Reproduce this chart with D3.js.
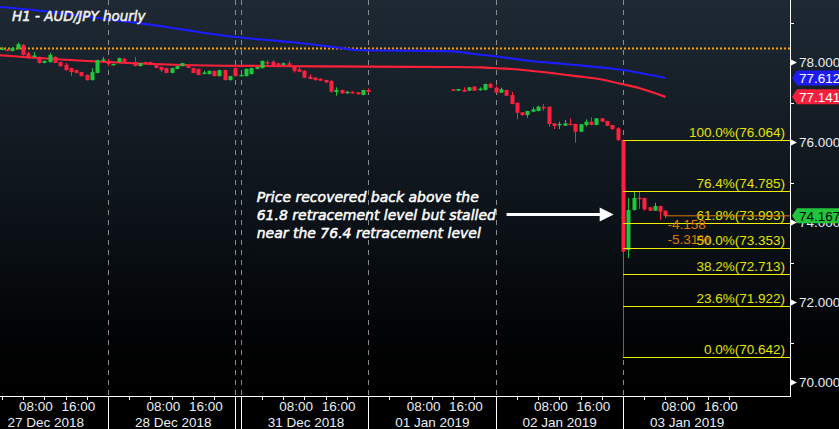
<!DOCTYPE html>
<html>
<head>
<meta charset="utf-8">
<script src="https://cdn.jsdelivr.net/npm/d3@7"></script>
<style>
  html, body { margin: 0; padding: 0; background: #000; }
  svg { display: block; }
</style>
</head>
<body>
<svg id="chart" width="839" height="429"></svg>
<script>
// ---------------- DATA ----------------
const title = "H1 - AUD/JPY hourly";
// hourly candles: [hour index from 27 Dec 00:00 (trading clock), open, high, low, close]
const candleRows = [
[4,78.325,78.388,78.313,78.35],[5,78.325,78.34,78.29,78.30],[6,78.29,78.39,78.275,78.36],
[7,78.34,78.495,78.325,78.46],[8,78.44,78.46,78.175,78.19],[9,78.23,78.27,78.10,78.105],
[10,78.16,78.26,78.14,78.175],[11,78.14,78.15,77.975,77.99],[12,77.99,78.045,77.98,78.04],
[13,78.01,78.24,78.00,78.19],[14,78.14,78.15,77.98,77.99],[15,78.01,78.02,77.90,77.91],
[16,77.94,77.99,77.80,77.81],[17,77.86,77.87,77.66,77.76],[18,77.81,77.82,77.73,77.74],
[19,77.76,77.77,77.65,77.66],[20,77.69,77.70,77.55,77.56],[21,77.56,77.86,77.55,77.76],
[22,77.74,78.07,77.73,78.06],[23,78.05,78.14,78.01,78.075],[24,78.04,78.09,77.91,77.96],
[25,77.96,77.97,77.95,77.965],[26,78.01,78.12,78.00,78.11],[27,78.09,78.12,78.00,78.01],
[28,78.01,78.02,77.98,77.99],[29,78.01,78.14,77.90,77.91],[30,77.91,77.99,77.90,77.985],
[31,78.01,78.02,77.98,77.99],[32,78.01,78.02,77.96,77.96],[33,77.94,77.95,77.86,77.865],
[34,77.89,77.90,77.76,77.81],[35,77.86,77.87,77.73,77.74],[36,77.74,77.87,77.73,77.86],
[37,77.84,77.92,77.83,77.91],[38,77.91,77.99,77.90,77.985],[39,77.91,77.92,77.86,77.865],
[40,77.86,77.87,77.73,77.74],[41,77.84,77.85,77.68,77.69],[42,77.74,77.795,77.705,77.75],
[43,77.71,77.80,77.70,77.79],[44,77.79,77.80,77.65,77.66],[45,77.66,77.82,77.65,77.81],
[46,77.81,77.82,77.55,77.56],[47,77.56,77.67,77.55,77.66],[48,77.86,77.87,77.65,77.66],
[49,77.68,77.70,77.67,77.69],[50,77.66,77.85,77.65,77.84],[51,77.71,77.87,77.70,77.86],
[52,77.84,77.89,77.83,77.885],[53,77.86,78.05,77.85,78.04],[54,78.01,78.06,77.94,77.99],
[55,78.02,78.06,77.91,77.92],[56,77.98,77.99,77.93,77.94],[57,77.94,78.005,77.93,77.98],
[58,77.98,78.045,77.93,77.94],[59,77.895,77.90,77.745,77.795],[60,77.83,77.895,77.76,77.77],
[61,77.795,77.80,77.61,77.62],[62,77.645,77.705,77.58,77.588],[63,77.62,77.645,77.545,77.563],
[64,77.595,77.60,77.54,77.545],[65,77.563,77.57,77.48,77.505],[66,77.538,77.563,77.245,77.27],
[67,77.263,77.38,77.17,77.313],[68,77.313,77.32,77.22,77.23],[69,77.23,77.29,77.22,77.27],
[70,77.27,77.29,77.22,77.23],[71,77.255,77.26,77.20,77.205],[72,77.188,77.32,77.18,77.313],
[73,77.313,77.355,77.238,77.263],
[89,77.33,77.34,77.29,77.295],[90,77.295,77.34,77.29,77.338],[91,77.313,77.38,77.265,77.27],
[92,77.295,77.385,77.29,77.38],[93,77.395,77.413,77.29,77.295],[94,77.325,77.38,77.295,77.345],
[95,77.313,77.47,77.30,77.463],[96,77.463,77.495,77.36,77.37],[97,77.37,77.413,77.24,77.245],
[98,77.245,77.37,77.24,77.33],[99,77.313,77.32,77.16,77.17],[100,77.188,77.27,76.955,76.963],
[101,76.995,77.00,76.58,76.745],[102,76.755,76.76,76.663,76.688],[103,76.688,76.79,76.62,76.788],
[104,76.77,76.88,76.765,76.83],[105,76.788,76.92,76.78,76.895],[106,76.89,76.963,76.795,76.875],
[107,76.895,76.90,76.395,76.463],[108,76.48,76.49,76.338,76.413],[109,76.45,76.52,76.338,76.465],
[110,76.42,76.563,76.41,76.48],[111,76.47,76.605,76.438,76.455],[112,76.463,76.47,75.995,76.27],
[113,76.27,76.465,76.26,76.455],[114,76.438,76.58,76.395,76.52],[115,76.52,76.63,76.43,76.438],
[116,76.438,76.61,76.43,76.605],[117,76.605,76.61,76.51,76.52],[118,76.538,76.545,76.41,76.42],
[119,76.438,76.44,76.313,76.338],[120,76.355,76.38,76.04,76.064],[121,76.064,76.064,70.642,73.27],
[122,73.313,74.613,73.11,74.313],[123,74.313,74.77,74.30,74.613],[124,74.62,74.77,74.338,74.61],
[125,74.613,74.62,74.295,74.33],[126,74.38,74.39,74.29,74.295],[127,74.295,74.495,74.29,74.413],
[128,74.413,74.42,74.063,74.27],[129,74.295,74.30,74.105,74.167]
];

// moving averages (sampled)
const blueMaHours = [3,10,22,35,41,48,53,60,67,71,89,93,98,102,110,121,129];
const blueMaValues = [79.395,79.313,79.113,78.888,78.763,78.638,78.575,78.488,78.38,78.313,78.28,78.213,78.138,78.063,77.963,77.813,77.612];
const redMaHours = [3,20,38,53,73,89,94,98,100,104,109,113,117,121,124,129];
const redMaValues = [78.188,78.038,77.938,77.913,77.895,77.888,77.88,77.85,77.838,77.788,77.713,77.645,77.575,77.455,77.363,77.141];

const levelLine = 78.35;            // orange dotted level
const lastPrice = 74.167;
const changeTexts = ["-4.158", "-5.31%"];

// Fibonacci retracement
const fibStartHour = 121;
const fibPercents = ["100.0%", "76.4%", "61.8%", "50.0%", "38.2%", "23.6%", "0.0%"];
const fibValues = [76.064, 74.785, 73.993, 73.353, 72.713, 71.922, 70.642];

// x axis
const dayLabels = ["27 Dec 2018","28 Dec 2018","31 Dec 2018","01 Jan 2019","02 Jan 2019","03 Jan 2019"];
const dayStartHours = [0, 24, 49, 73, 97, 121];
const separatorHours = [24, 48, 49, 73, 97, 121];
const timeLabels = ["08:00", "16:00"];
const timeLabelHours = [8, 16];
const minorTickHours = [4, 8, 12, 16, 20];

// y axis
const yMajorTicks = [70, 72, 74, 76, 78];
const yMinorTicks = [71, 73, 75, 77, 79];

const annotationLines = [
  "Price recovered back above the",
  "61.8 retracement level but stalled",
  "near the 76.4 retracement level"
];

// ---------------- LAYOUT ----------------
const W = 839, H = 429;
const plotRight = 790, plotBottom = 396;
const svg = d3.select("#chart");

const x = d3.scaleLinear().domain([24, 121]).range([108, 623]);
const y = d3.scaleLinear().domain([70, 78]).range([382.5, 62.5]);

const defs = svg.append("defs");
const grad = defs.append("linearGradient").attr("id", "bg").attr("x1", 0).attr("y1", 0).attr("x2", 0).attr("y2", 1);
[[0, "#1e2934"], [0.3, "#141d25"], [0.6, "#0a1015"], [0.85, "#020304"], [1, "#000"]].forEach(([o, c]) =>
  grad.append("stop").attr("offset", o).attr("stop-color", c));
defs.append("clipPath").attr("id", "plotClip").append("rect")
  .attr("x", 0).attr("y", 0).attr("width", plotRight).attr("height", plotBottom);

svg.append("rect").attr("width", W).attr("height", plotBottom).attr("fill", "url(#bg)");
svg.append("rect").attr("y", plotBottom).attr("width", W).attr("height", H - plotBottom).attr("fill", "#000");

const plot = svg.append("g").attr("clip-path", "url(#plotClip)");

// day separators
plot.selectAll("line.sep").data(separatorHours).join("line")
  .attr("x1", d => Math.round(x(d)) + 0.5).attr("x2", d => Math.round(x(d)) + 0.5)
  .attr("y1", 0).attr("y2", plotBottom)
  .attr("stroke", "#8a8a8a").attr("stroke-width", 1).attr("stroke-dasharray", "5,5");

// orange dotted level
plot.append("line").attr("x1", 0).attr("x2", plotRight)
  .attr("y1", y(levelLine)).attr("y2", y(levelLine))
  .attr("stroke", "#ff9a00").attr("stroke-width", 2).attr("stroke-dasharray", "2,2");

// moving averages
const maLine = d3.line().curve(d3.curveMonotoneX);
plot.append("path")
  .attr("d", maLine(blueMaHours.map((h, i) => [x(h), y(blueMaValues[i])])))
  .attr("fill", "none").attr("stroke", "#1c1cff").attr("stroke-width", 2.2);
plot.append("path")
  .attr("d", maLine(redMaHours.map((h, i) => [x(h), y(redMaValues[i])])))
  .attr("fill", "none").attr("stroke", "#ff2138").attr("stroke-width", 2.2);

// fib lines
const fibX0 = x(fibStartHour);
const fibs = fibValues.map((v, i) => ({ v, p: fibPercents[i] }));
svg.selectAll("line.fib").data(fibs).join("line")
  .attr("x1", fibX0).attr("x2", plotRight)
  .attr("y1", d => Math.round(y(d.v)) + 0.5).attr("y2", d => Math.round(y(d.v)) + 0.5)
  .attr("stroke", "#f0f000").attr("stroke-width", 1);

// candles
const candles = candleRows.map(([h, o, hi, lo, c]) => ({ h, o, hi: Math.max(hi, o, c), lo: Math.min(lo, o, c), c }));
const cg = plot.append("g");
cg.selectAll("line.wick").data(candles).join("line")
  .attr("x1", d => Math.round(x(d.h)) + 0.5).attr("x2", d => Math.round(x(d.h)) + 0.5)
  .attr("y1", d => y(d.hi)).attr("y2", d => y(d.lo))
  .attr("stroke", d => d.c >= d.o ? "#1ec83c" : "#ff1f3f").attr("stroke-width", 1);
cg.selectAll("rect.body").data(candles).join("rect")
  .attr("x", d => Math.round(x(d.h)) - 1.5).attr("width", 4)
  .attr("y", d => y(Math.max(d.o, d.c)))
  .attr("height", d => Math.max(1.5, Math.abs(y(d.o) - y(d.c))))
  .attr("fill", d => d.c >= d.o ? "#1ec83c" : "#ff1f3f");

// fib labels
svg.selectAll("text.fib").data(fibs).join("text")
  .attr("x", plotRight - 5).attr("y", d => Math.round(y(d.v)) - 3)
  .attr("text-anchor", "end")
  .attr("font-family", "Liberation Sans, Arial, sans-serif").attr("font-size", 13.5)
  .attr("fill", "#e4e400")
  .text(d => d.p + "(" + d.v.toFixed(3) + ")");

// last price line & change texts
const lastX = x(candles[candles.length - 1].h);
svg.append("line").attr("x1", lastX).attr("x2", plotRight)
  .attr("y1", y(lastPrice)).attr("y2", y(lastPrice))
  .attr("stroke", "#d87800").attr("stroke-width", 1);
changeTexts.forEach((t, i) => {
  svg.append("text").attr("x", lastX + 2).attr("y", y(lastPrice) + 13.5 + i * 15)
    .attr("font-family", "Liberation Sans, Arial, sans-serif").attr("font-size", 13.5)
    .attr("fill", "#e07a00").text(t);
});

// axes lines
svg.append("line").attr("x1", 0).attr("x2", plotRight + 0.5).attr("y1", plotBottom + 0.5).attr("y2", plotBottom + 0.5)
  .attr("stroke", "#fff").attr("stroke-width", 1);
svg.append("line").attr("x1", plotRight + 0.5).attr("x2", plotRight + 0.5).attr("y1", 0).attr("y2", plotBottom + 1)
  .attr("stroke", "#fff").attr("stroke-width", 1);

// y axis
const axisFont = "Liberation Sans, Arial, sans-serif";
svg.selectAll("line.ymin").data(yMinorTicks).join("line")
  .attr("x1", plotRight).attr("x2", plotRight + 4)
  .attr("y1", d => Math.round(y(d)) + 0.5).attr("y2", d => Math.round(y(d)) + 0.5)
  .attr("stroke", "#fff");
svg.selectAll("path.ytri").data(yMajorTicks).join("path")
  .attr("d", d => { const yy = y(d); return `M${plotRight},${yy - 3.5}L${plotRight + 7},${yy}L${plotRight},${yy + 3.5}Z`; })
  .attr("fill", "#fff");
svg.selectAll("text.ylab").data(yMajorTicks).join("text")
  .attr("x", plotRight + 9).attr("y", d => y(d) + 4.5)
  .attr("font-family", axisFont).attr("font-size", 13.5).attr("fill", "#e8eef4")
  .text(d => d.toFixed(3));

// price tags
function tag(v, fill, textColor) {
  const cy = y(v);
  svg.append("path")
    .attr("d", `M${plotRight + 2},${cy}L${plotRight + 7},${cy - 7.5}L${W},${cy - 7.5}L${W},${cy + 7.5}L${plotRight + 7},${cy + 7.5}Z`)
    .attr("fill", fill);
  svg.append("text").attr("x", plotRight + 9).attr("y", cy + 5)
    .attr("font-family", axisFont).attr("font-size", 13.5).attr("fill", textColor)
    .text(v.toFixed(3));
}
tag(blueMaValues[blueMaValues.length - 1], "#1c1cf2", "#fff");
tag(redMaValues[redMaValues.length - 1], "#f2203c", "#fff");
tag(lastPrice, "#22c43c", "#000");

// x axis
const xg = svg.append("g");
separatorHours.forEach(h => {
  xg.append("line").attr("x1", Math.round(x(h)) + 0.5).attr("x2", Math.round(x(h)) + 0.5)
    .attr("y1", plotBottom).attr("y2", H).attr("stroke", "#fff");
});
dayStartHours.forEach((d0, i) => {
  minorTickHours.forEach(h => {
    const xx = Math.round(x(d0 + h)) + 0.5;
    xg.append("line").attr("x1", xx).attr("x2", xx).attr("y1", plotBottom).attr("y2", plotBottom + 4).attr("stroke", "#fff");
  });
  timeLabelHours.forEach((h, j) => {
    xg.append("text").attr("x", x(d0 + h) - 4).attr("y", 410.5)
      .attr("font-family", axisFont).attr("font-size", 13.5).attr("fill", "#e8eef4")
      .text(timeLabels[j]);
  });
  xg.append("text").attr("x", x(d0) + 27).attr("y", 426.5)
    .attr("font-family", axisFont).attr("font-size", 13.5).attr("fill", "#e8eef4")
    .text(dayLabels[i]);
});

// title
svg.append("text").attr("x", 12).attr("y", 20.5)
  .attr("font-family", "DejaVu Sans, sans-serif").attr("font-style", "italic")
  .attr("font-size", 13.5).attr("fill", "#f2f2f2")
  .attr("stroke", "#f2f2f2").attr("stroke-width", 0.5).text(title);

// annotation
const annX = x(52), annY = y(74.2);
annotationLines.forEach((t, i) => {
  svg.append("text").attr("x", annX).attr("y", annY - 12.5 + i * 18)
    .attr("font-family", "DejaVu Sans, sans-serif").attr("font-style", "italic")
    .attr("font-size", 14).attr("fill", "#fff")
    .attr("stroke", "#fff").attr("stroke-width", 0.5).text(t);
});
const arX0 = x(97) + 11, arX1 = x(120) - 4;
svg.append("line").attr("x1", arX0).attr("x2", arX1 - 12).attr("y1", annY).attr("y2", annY)
  .attr("stroke", "#fff").attr("stroke-width", 3);
svg.append("path")
  .attr("d", `M${arX1 - 14},${annY - 7}L${arX1},${annY}L${arX1 - 14},${annY + 7}Z`)
  .attr("fill", "#fff");
</script>
</body>
</html>
